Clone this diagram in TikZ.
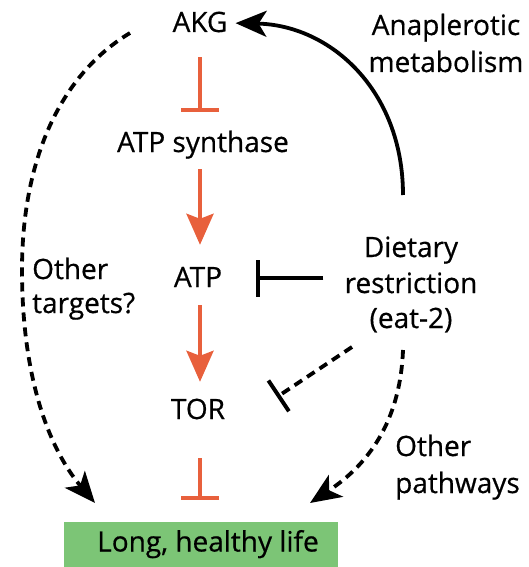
\documentclass[tikz,border=0pt]{standalone}
\usepackage{fontspec}
\setmainfont{Open Sans}[FakeBold=0.6]
\usetikzlibrary{arrows.meta}
\definecolor{org}{HTML}{E8603C}
\definecolor{grn}{HTML}{7CC576}
\begin{document}
\begin{tikzpicture}[x=1pt,y=-1pt,
  font=\fontsize{28}{36}\selectfont,
  lbl/.style={inner sep=0pt, text height=20pt, text depth=6pt, anchor=base},
  lbll/.style={lbl, anchor=base west},
  orinh/.style={draw=org, line width=4pt, -{Bar[width=38pt,line width=4pt]}},
  orarr/.style={draw=org, line width=4pt, -{Stealth[length=31pt,width=27pt,inset=5pt]}},
  blinh/.style={draw=black, line width=3.8pt, -{Bar[width=37pt,line width=4pt]}},
  blarr/.style={draw=black, line width=3.8pt, -{Stealth[length=31pt,width=26pt,inset=8pt]}},
  dsh/.style={dash pattern=on 9pt off 6pt}
]
\useasboundingbox (0,0) rectangle (529,567);
% nodes
\node[lbl] (akg) at (200,32) {AKG};
\node[lbl] (atps) at (203,152) {ATP synthase};
\node[lbl] (atp) at (198,287) {ATP};
\node[lbl] (tor) at (198,419) {TOR};
\node[lbl] (dr1) at (411,257) {Dietary};
\node[lbl] (dr) at (411,293) {restriction};
\node[lbl] (dr3) at (411,328) {(eat-2)};
\node[lbl] (ana1) at (446,35) {Anaplerotic};
\node[lbl] (ana2) at (446,72) {metabolism};
\node[lbll] (ot1) at (32,279) {Other};
\node[lbll] (ot2) at (32,313) {targets?};
\node[lbll] (op1) at (395,456) {Other};
\node[lbll] (op2) at (395,493) {pathways};
\node[fill=grn, minimum width=274pt, minimum height=45pt, inner sep=0pt, text height=20pt, text depth=6pt] (life) at (201,544.5) {\hspace{14pt}Long, healthy life};
% coordinates for free ends
\coordinate (drtop) at (403,195);
\coordinate (drsw) at (352,347);
\coordinate (torbar) at (277,397);
\coordinate (drbot) at (403,350);
\coordinate (akgsw) at (130,33);
\coordinate (mid) at (22,270);
\coordinate (lifenw) at (95,503);
\coordinate (lifene) at (310,503);
\coordinate (atpmid) at (198,278);
% main orange chain
\draw[orinh, shorten <=19pt, shorten >=20pt] (akg.south) -- (atps.north -| akg.south);
\draw[orarr, shorten <=11pt, shorten >=22pt] (atps.south -| akg.south) -- (atp.north -| akg.south);
\draw[orarr, shorten <=12pt, shorten >=17pt] (atp.south -| akg.south) -- (tor.north -| akg.south);
\draw[orinh, shorten <=33pt, shorten >=22pt] (tor.south -| akg.south) -- (life.north -| akg.south);
% dietary restriction
\draw[blinh, shorten <=21pt, shorten >=34pt] (dr.west |- atpmid) -- (atp.east |- atpmid);
\draw[blarr, shorten >=8pt] (drtop) .. controls (403,90) and (330,25) .. (akg.east |- 0,23);
\draw[blinh, dsh] (drsw) -- (torbar);
\draw[blarr, dsh] (drbot) .. controls (400,430) and (360,470) .. (lifene);
% other targets
\draw[blarr, dsh] (akgsw) .. controls (60,75) and (22,160) .. (mid) .. controls (22,380) and (50,450) .. (lifenw);
\end{tikzpicture}
\end{document}
